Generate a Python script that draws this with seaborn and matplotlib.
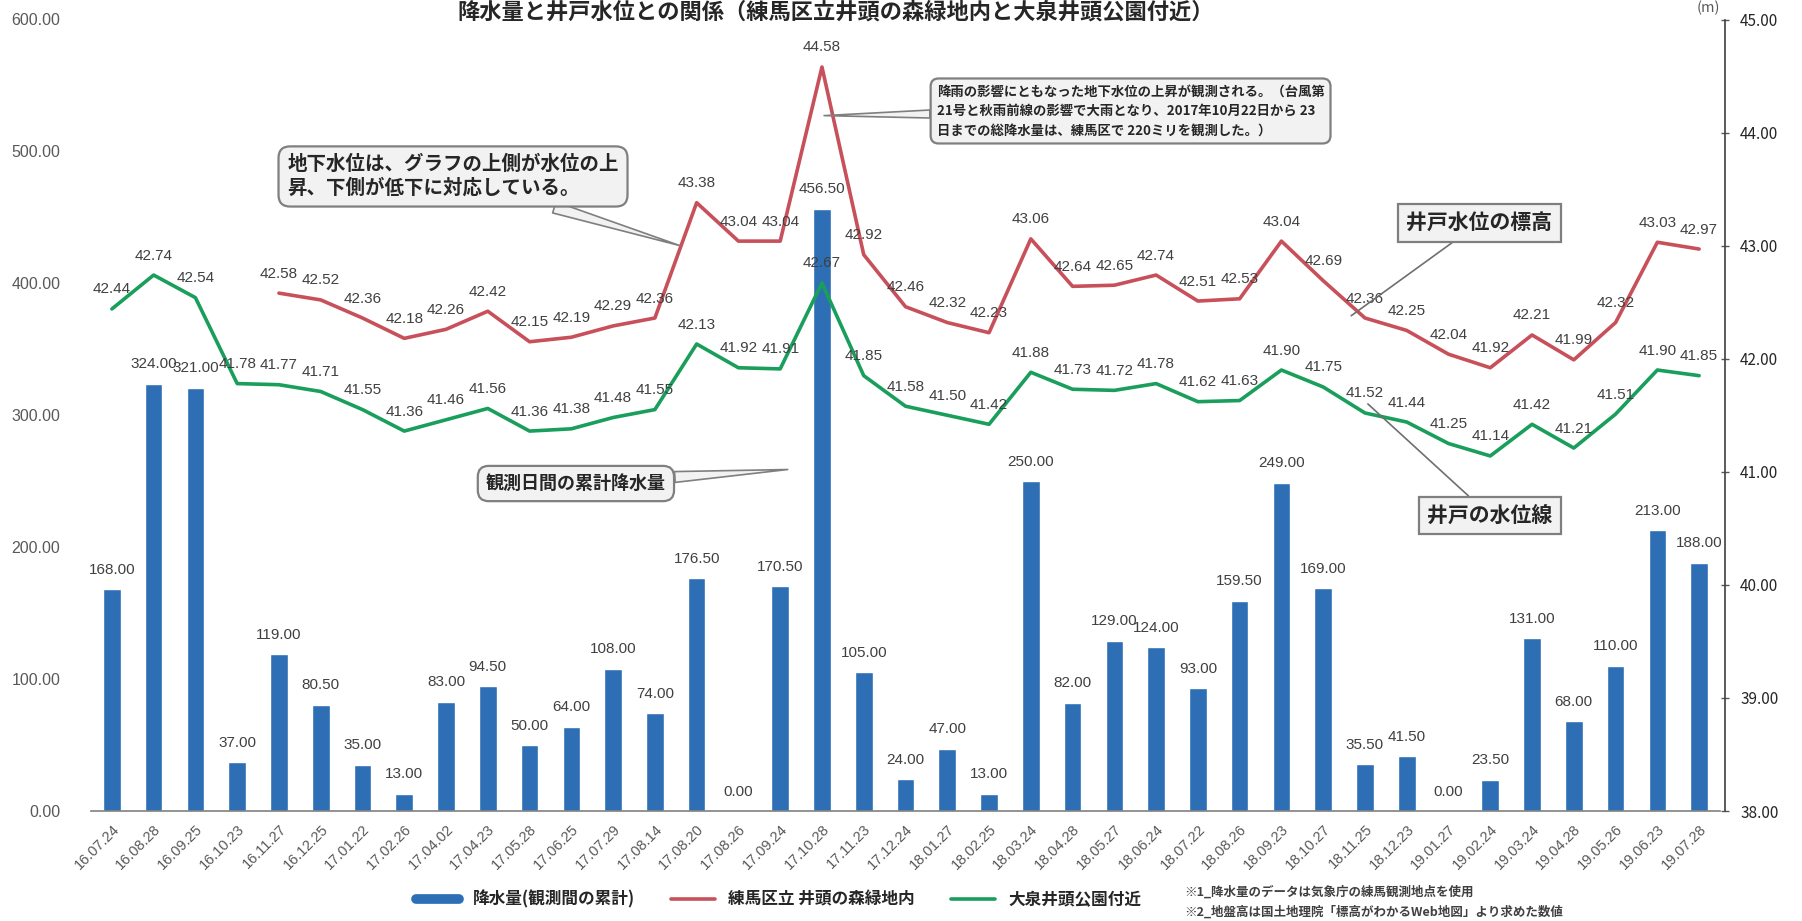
import numpy as np
import pandas as pd
import matplotlib
matplotlib.use("Agg")
import matplotlib.pyplot as plt
from matplotlib import font_manager
from matplotlib.lines import Line2D
import seaborn as sns

# ---------------- data ----------------
dates = ["16.07.24", "16.08.28", "16.09.25", "16.10.23", "16.11.27", "16.12.25",
         "17.01.22", "17.02.26", "17.04.02", "17.04.23", "17.05.28", "17.06.25",
         "17.07.29", "17.08.14", "17.08.20", "17.08.26", "17.09.24", "17.10.28",
         "17.11.23", "17.12.24", "18.01.27", "18.02.25", "18.03.24", "18.04.28",
         "18.05.27", "18.06.24", "18.07.22", "18.08.26", "18.09.23", "18.10.27",
         "18.11.25", "18.12.23", "19.01.27", "19.02.24", "19.03.24", "19.04.28",
         "19.05.26", "19.06.23", "19.07.28"]

rain = [168.00, 324.00, 321.00, 37.00, 119.00, 80.50, 35.00, 13.00, 83.00, 94.50,
        50.00, 64.00, 108.00, 74.00, 176.50, 0.00, 170.50, 456.50, 105.00, 24.00,
        47.00, 13.00, 250.00, 82.00, 129.00, 124.00, 93.00, 159.50, 249.00, 169.00,
        35.50, 41.50, 0.00, 23.50, 131.00, 68.00, 110.00, 213.00, 188.00]

# 練馬区立 井頭の森緑地内 (starts at 16.11.27)
nerima_start = 4
nerima = [42.58, 42.52, 42.36, 42.18, 42.26, 42.42, 42.15, 42.19, 42.29, 42.36,
          43.38, 43.04, 43.04, 44.58, 42.92, 42.46, 42.32, 42.23, 43.06, 42.64,
          42.65, 42.74, 42.51, 42.53, 43.04, 42.69, 42.36, 42.25, 42.04, 41.92,
          42.21, 41.99, 42.32, 43.03, 42.97]

# 大泉井頭公園付近
oizumi = [42.44, 42.74, 42.54, 41.78, 41.77, 41.71, 41.55, 41.36, 41.46, 41.56,
          41.36, 41.38, 41.48, 41.55, 42.13, 41.92, 41.91, 42.67, 41.85, 41.58,
          41.50, 41.42, 41.88, 41.73, 41.72, 41.78, 41.62, 41.63, 41.90, 41.75,
          41.52, 41.44, 41.25, 41.14, 41.42, 41.21, 41.51, 41.90, 41.85]

series_names = ["降水量(観測間の累計)", "練馬区立 井頭の森緑地内", "大泉井頭公園付近"]
title = "降水量と井戸水位との関係（練馬区立井頭の森緑地内と大泉井頭公園付近）"
note1 = "※1_降水量のデータは気象庁の練馬観測地点を使用"
note2 = "※2_地盤高は国土地理院「標高がわかるWeb地図」より求めた数値"
callout1 = "地下水位は、グラフの上側が水位の上\n昇、下側が低下に対応している。"
callout2 = ("降雨の影響にともなった地下水位の上昇が観測される。（台風第\n"
            "21号と秋雨前線の影響で大雨となり、2017年10月22日から 23\n"
            "日までの総降水量は、練馬区で 220ミリを観測した。）")
callout3 = "観測日間の累計降水量"
callout4 = "井戸水位の標高"
callout5 = "井戸の水位線"

# ---------------- style ----------------
sns.set_theme(style="white")
names = {f.name for f in font_manager.fontManager.ttflist}
num_font = "Liberation Sans Narrow" if "Liberation Sans Narrow" in names else "Liberation Sans"
jp = ["Noto Sans CJK JP", "DejaVu Sans"]
plt.rcParams["font.family"] = jp

BLUE = "#2E6EB5"
RED = "#C8505A"
GREEN = "#1A9E5C"
LBL = "#404040"

W, H = 1802, 921
fig = plt.figure(figsize=(W / 100, H / 100), dpi=100)
ax = fig.add_axes([91 / W, 1 - 811 / H, (1720 - 91) / W, (811 - 19.5) / H])

x = np.arange(len(dates))
df_bar = pd.DataFrame({"date": dates, "rain": rain})
sns.barplot(data=df_bar, x="date", y="rain", color=BLUE, width=0.42,
            saturation=1, ax=ax, zorder=2)
ax.set_ylim(0, 600)
ax.set_xlim(-0.5, len(dates) - 0.5)
ax.set_yticks(np.arange(0, 601, 100))
ax.set_yticklabels([f"{v:.2f}" for v in np.arange(0, 601, 100)],
                   fontsize=11.5, color="#595959", family=num_font)
ax.set_xticks(x)
ax.set_xticklabels(dates, rotation=45, ha="right", rotation_mode="anchor",
                   fontsize=10.5, color="#595959", family=num_font)
ax.tick_params(axis="y", length=0, pad=22)
ax.tick_params(axis="x", length=4, width=1, color="#808080", direction="inout", pad=6)
ax.set_xlabel("")
ax.set_ylabel("")
for s in ["top", "left", "right"]:
    ax.spines[s].set_visible(False)
ax.spines["bottom"].set_color("#808080")
ax.spines["bottom"].set_linewidth(1.2)

for xi, v in zip(x, rain):
    ax.annotate(f"{v:.2f}", (xi, v), xytext=(0, 9), textcoords="offset points",
                ha="center", va="bottom", fontsize=11, color=LBL, family=num_font)

# ---------------- lines on right axis ----------------
ax2 = ax.twinx()
df_oiz = pd.DataFrame({"x": x, "y": oizumi})
df_ner = pd.DataFrame({"x": x[nerima_start:], "y": nerima})
sns.lineplot(data=df_ner, x="x", y="y", color=RED, lw=2.6, ax=ax2)
sns.lineplot(data=df_oiz, x="x", y="y", color=GREEN, lw=2.6, ax=ax2)
ax2.set_ylim(38, 45)
ax2.set_xlim(-0.5, len(dates) - 0.5)
ax2.set_yticks(np.arange(38, 46, 1))
ax2.set_yticklabels([f"{v:.2f}" for v in np.arange(38, 46, 1)],
                    fontsize=11.5, color="#595959", family=num_font)
ax2.tick_params(axis="y", length=6, width=1, color="#595959", direction="inout", pad=8)
ax2.set_xlabel("")
ax2.set_ylabel("")
for s in ["top", "left", "bottom"]:
    ax2.spines[s].set_visible(False)
ax2.spines["right"].set_color("#404040")
ax2.spines["right"].set_linewidth(1.2)
ax2.spines["right"].set_position(("axes", 1.003))
ax2.text(1.0, 1.005, "(m)", transform=ax2.transAxes, fontsize=10.5,
         color="#595959", ha="right", va="bottom")

for xi, v in zip(x[nerima_start:], nerima):
    ax2.annotate(f"{v:.2f}", (xi, v), xytext=(0, 9), textcoords="offset points",
                 ha="center", va="bottom", fontsize=11, color=LBL, family=num_font)
for xi, v in zip(x, oizumi):
    ax2.annotate(f"{v:.2f}", (xi, v), xytext=(0, 9), textcoords="offset points",
                 ha="center", va="bottom", fontsize=11, color=LBL, family=num_font)

# ---------------- callouts ----------------
box_round = dict(boxstyle="round,pad=0.45,rounding_size=0.6", fc="#F2F2F2",
                 ec="#7F7F7F", lw=1.6)
box_sq = dict(boxstyle="square,pad=0.4", fc="#F2F2F2", ec="#7F7F7F", lw=1.6)
wedge = dict(arrowstyle="wedge,tail_width=0.6,shrink_factor=0.5", fc="#F2F2F2",
             ec="#7F7F7F", lw=1.2, shrinkA=0, shrinkB=0)
plain = dict(arrowstyle="-", color="#6F6F6F", lw=1.2, shrinkA=0, shrinkB=0)

ax2.annotate(callout1, xy=(13.6, 43.0), xycoords="data",
             xytext=(0.2514, 0.8084), textcoords="figure fraction",
             ha="center", va="center", multialignment="left", fontsize=14,
             fontweight="bold", color="#262626", bbox=box_round, arrowprops=wedge,
             linespacing=1.25, zorder=10)
ax2.annotate(callout2, xy=(17.05, 44.15), xycoords="data",
             xytext=(0.6274, 0.8795), textcoords="figure fraction",
             ha="center", va="center", multialignment="left", fontsize=9.6,
             fontweight="bold", color="#262626", bbox=box_round, arrowprops=wedge,
             linespacing=1.5, zorder=10)
ax2.annotate(callout3, xy=(16.18, 41.02), xycoords="data",
             xytext=(0.3196, 0.475), textcoords="figure fraction",
             ha="center", va="center", fontsize=13, fontweight="bold",
             color="#262626", bbox=box_round, arrowprops=wedge, zorder=10)
ax2.annotate(callout4, xy=(29.67, 42.38), xycoords="data",
             xytext=(0.821, 0.758), textcoords="figure fraction",
             ha="center", va="center", fontsize=15, fontweight="bold",
             color="#262626", bbox=box_sq, arrowprops=plain, zorder=10)
ax2.annotate(callout5, xy=(30.07, 41.6), xycoords="data",
             xytext=(0.8268, 0.4403), textcoords="figure fraction",
             ha="center", va="center", fontsize=15, fontweight="bold",
             color="#262626", bbox=box_sq, arrowprops=plain, zorder=10)

# ---------------- title, legend, notes ----------------
fig.text(0.464, 0.999, title, ha="center", va="top", fontsize=16,
         fontweight="bold", color="#262626")

handles = [Line2D([0], [0], color=BLUE, lw=7),
           Line2D([0], [0], color=RED, lw=2.6),
           Line2D([0], [0], color=GREEN, lw=2.6)]
fig.legend(handles, series_names, loc="center", bbox_to_anchor=(0.432, 0.023),
           ncol=3, frameon=False, handlelength=2.6, columnspacing=2.2,
           labelcolor="#262626", prop={"family": jp, "size": 12, "weight": "bold"})

fig.text(0.657, 0.031, note1, ha="left", va="center", fontsize=9,
         fontweight="bold", color="#404040")
fig.text(0.657, 0.003, note2, ha="left", va="bottom", fontsize=9,
         fontweight="bold", color="#404040")

fig.savefig("out.png", dpi=100)
